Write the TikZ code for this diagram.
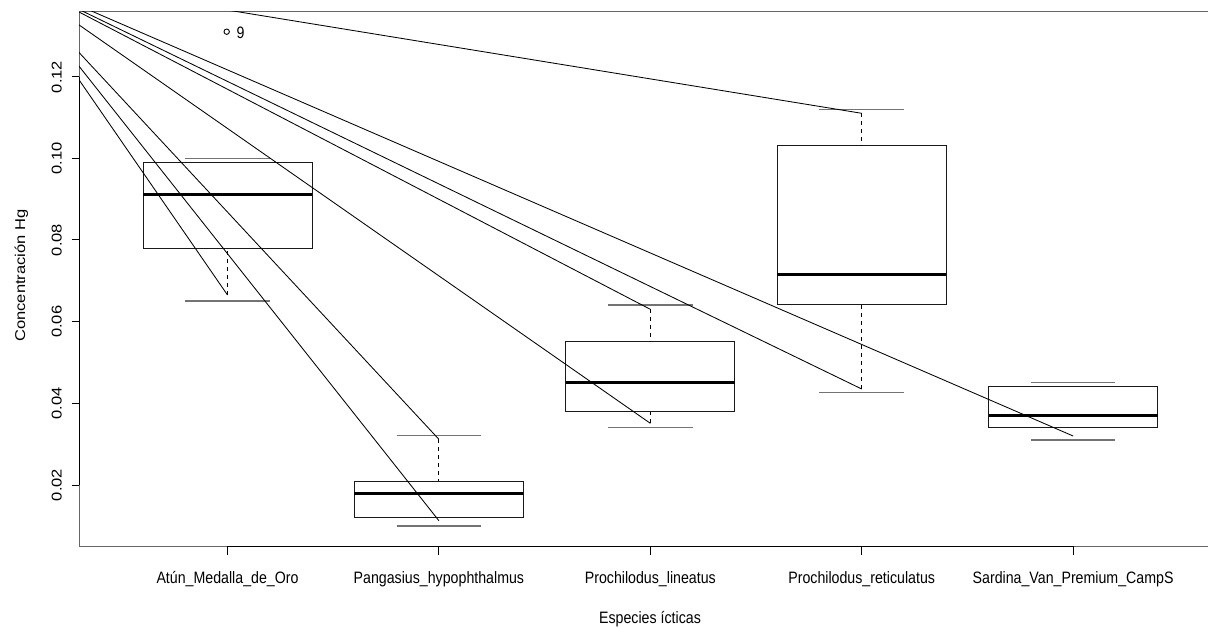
\documentclass[tikz,border=0pt]{standalone}
\usepackage{fontspec}
\setmainfont{Liberation Sans}
\newfontfamily\hfont[FakeStretch=0.86]{Liberation Sans}
\newfontfamily\vfont[FakeStretch=1.163]{Liberation Sans}
\begin{document}
\begin{tikzpicture}[x=1pt,y=-1pt,
  frameline/.style={draw=black!60, line width=1pt},
  axisline/.style={draw=black, line width=1pt},
  boxr/.style={draw=black!90, line width=1pt},
  med/.style={draw=black, line width=3pt},
  whisk/.style={draw=black, line width=0.9pt, dash pattern=on 4pt off 4pt},
  capl/.style={draw=black!55, line width=1.1pt},
  ray/.style={draw=black, line width=0.85pt},
  hlab/.style={font=\hfont\fontsize{16.5}{18}\selectfont, inner sep=0pt},
  vlab/.style={font=\vfont\fontsize{14.2}{16}\selectfont, inner sep=0pt, rotate=90},
]
\useasboundingbox (0,0) rectangle (1208,628);

% frame and axes
\draw[frameline] (1221,12) -- (79,12) -- (79,546) -- (1221,546);
\draw[axisline] (227.5,546) -- (1073.1,546);
\draw[axisline] (79,485) -- (79,77);
\foreach \cx in {227.5,438.9,650.3,861.7,1073.1}
  \draw[axisline] (\cx,546) -- (\cx,555.3);
\foreach \yy in {485,403.4,321.8,240,158.6,77}
  \draw[axisline] (71.7,\yy) -- (79,\yy);

% y tick labels
\node[vlab, anchor=base] (t02) at (61.7,485) {0.02};
\node[vlab, anchor=base] (t04) at (61.7,403.4) {0.04};
\node[vlab, anchor=base] (t06) at (61.7,321.8) {0.06};
\node[vlab, anchor=base] (t08) at (61.7,240) {0.08};
\node[vlab, anchor=base] (t10) at (61.7,158.6) {0.10};
\node[vlab, anchor=base] (t12) at (61.7,77) {0.12};
\node[vlab, anchor=base] (ylab) at (25,275.5) {Concentración Hg};

% x labels
\node[hlab, anchor=base] (x1) at (227.5,583.3) {Atún\_Medalla\_de\_Oro};
\node[hlab, anchor=base] (x2) at (438.9,583.3) {Pangasius\_hypophthalmus};
\node[hlab, anchor=base] (x3) at (650.3,583.3) {Prochilodus\_lineatus};
\node[hlab, anchor=base] (x4) at (861.7,583.3) {Prochilodus\_reticulatus};
\node[hlab, anchor=base] (x5) at (1073.1,583.3) {Sardina\_Van\_Premium\_CampS};
\node[hlab, anchor=base] (xlab) at (650,623.3) {Especies ícticas};

% Atun
\draw[boxr] (143,163) rectangle (312,248.3);
\draw[med] (143,195) -- (312,195);
\draw[capl] (185.2,158.7) -- (269.8,158.7);
\draw[whisk] (227.5,295) -- (227.5,248.3);
\draw[capl] (185.2,301) -- (269.8,301);
% outlier
\draw[black, line width=0.9pt] (226.7,31.7) circle (2.7);
\node[hlab, anchor=base west] (o9) at (236.5,38.3) {9};

% Pangasius
\draw[boxr] (354.4,481) rectangle (523.4,517.7);
\draw[med] (354.4,493.3) -- (523.4,493.3);
\draw[whisk] (438.9,439.3) -- (438.9,481);
\draw[capl] (396.6,435.7) -- (481.2,435.7);
\draw[capl] (396.6,526) -- (481.2,526);

% lineatus
\draw[boxr] (565.8,341.7) rectangle (734.8,411.7);
\draw[med] (565.8,382.3) -- (734.8,382.3);
\draw[whisk] (650.3,309.3) -- (650.3,341.7);
\draw[capl] (608,305) -- (692.6,305);
\draw[whisk] (650.3,423.3) -- (650.3,411.7);
\draw[capl] (608,427.3) -- (692.6,427.3);

% reticulatus
\draw[boxr] (777.2,145.7) rectangle (946.2,305);
\draw[med] (777.2,274.7) -- (946.2,274.7);
\draw[whisk] (861.7,113.3) -- (861.7,145.7);
\draw[capl] (819.4,109.3) -- (904,109.3);
\draw[whisk] (861.7,389) -- (861.7,305);
\draw[capl] (819.4,392.7) -- (904,392.7);

% Sardina
\draw[boxr] (988.6,386.7) rectangle (1157.6,427.7);
\draw[med] (988.6,415) -- (1157.6,415);
\draw[capl] (1030.8,382.7) -- (1115.4,382.7);
\draw[capl] (1030.8,440) -- (1115.4,440);

% rays from a common point outside the plot
\coordinate (O) at (6,-26);
\coordinate (E1) at (227.5,295);
\coordinate (E2) at (438.9,439.3);
\coordinate (E3) at (438.9,520.7);
\coordinate (E4) at (650.3,423.3);
\coordinate (E5) at (650.3,309.3);
\coordinate (E6) at (861.7,389);
\coordinate (E7) at (861.7,113.3);
\coordinate (E8) at (1073.1,436);
\begin{scope}
  \clip (79,12) rectangle (1221,546);
  \foreach \e in {E1,E2,E3,E4,E5,E6,E7,E8}
    \draw[ray] (O) -- (\e);
\end{scope}
\end{tikzpicture}
\end{document}
